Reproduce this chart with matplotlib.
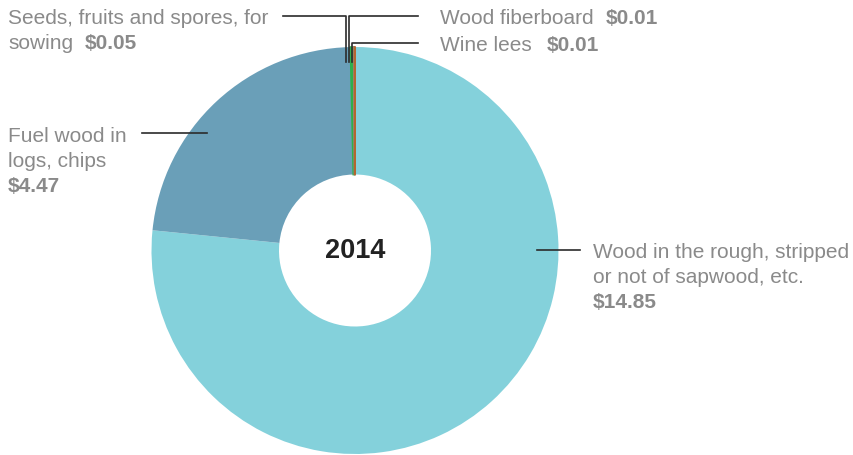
import matplotlib
matplotlib.use("Agg")
import matplotlib.pyplot as plt

# ---- data ----
categories = ["Wood in the rough, stripped\nor not of sapwood, etc.",
              "Fuel wood in\nlogs, chips",
              "Seeds, fruits and spores, for\nsowing",
              "Wood fiberboard",
              "Wine lees"]
values = [14.85, 4.47, 0.05, 0.01, 0.01]
value_labels = ["$14.85", "$4.47", "$0.05", "$0.01", "$0.01"]
colors = ["#84D1DB", "#6A9FB8", "#2DB04B", "#8E8E8E", "#B5652F"]
center_label = "2014"

W, H = 854, 456
fig = plt.figure(figsize=(W / 100, H / 100), dpi=100)
ax = fig.add_axes([0, 0, 1, 1])

cx, cy = 355, H - 251.5
R, r_in = 203.5, 76

wedges, _ = ax.pie(values, colors=colors, startangle=90, counterclock=False,
                   center=(cx, cy), radius=R,
                   wedgeprops=dict(width=R - r_in, linewidth=0))
for w, v in zip(wedges, values):
    if v < 1:
        w.set_edgecolor(w.get_facecolor())
        w.set_linewidth(1.2)

ax.set_xlim(0, W)
ax.set_ylim(0, H)
ax.set_aspect("equal")
ax.axis("off")

def Y(y):
    return H - y

txt_color = "#8A8A8A"
font = "Liberation Sans"
fs = 15
line_c = "#2b2b2b"
lw = 1.2

ax.text(cx, Y(250.5), center_label, ha="center", va="center", fontsize=19.5,
        fontweight="bold", color="#222222", family=font)

renderer = fig.canvas.get_renderer()

def label(x, y, lines, value, value_newline, gap=12):
    """lines: list of regular strings; value appended to last line or on new line."""
    t = None
    for i, ln in enumerate(lines):
        t = ax.text(x, Y(y + i * 25.5), ln, ha="left", va="center", fontsize=fs,
                    color=txt_color, family=font)
    if value_newline:
        ax.text(x, Y(y + len(lines) * 25.5), value, ha="left", va="center",
                fontsize=fs, fontweight="bold", color=txt_color, family=font)
    else:
        bb = t.get_window_extent(renderer=renderer)
        ax.text(bb.x1 + gap, Y(y + (len(lines) - 1) * 25.5), value, ha="left",
                va="center", fontsize=fs, fontweight="bold", color=txt_color,
                family=font)

label(593, 252, categories[0].split("\n"), value_labels[0], True)
label(8, 136, categories[1].split("\n"), value_labels[1], True)
label(8, 18, categories[2].split("\n"), value_labels[2], False)
label(440, 18, [categories[3]], value_labels[3], False)
label(440, 45, [categories[4]], value_labels[4], False, gap=15)

# leader lines
ax.plot([537, 580], [Y(251), Y(251)], color=line_c, lw=lw)
ax.plot([142, 207], [Y(134), Y(134)], color=line_c, lw=lw)
ax.plot([283, 346.5, 346.5], [Y(17), Y(17), Y(63)], color=line_c, lw=lw)
ax.plot([349.5, 349.5, 418], [Y(63), Y(17), Y(17)], color=line_c, lw=lw)
ax.plot([352.5, 352.5, 418], [Y(63), Y(43.5), Y(43.5)], color=line_c, lw=lw)

fig.savefig("out.png", dpi=100)
